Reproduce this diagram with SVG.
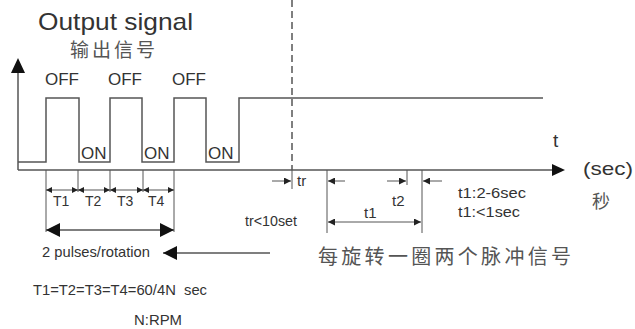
<svg xmlns="http://www.w3.org/2000/svg" width="635" height="329" viewBox="0 0 635 329">
<defs>
<style>
.ln{stroke:#555;stroke-width:1.5;fill:none}
.tn{stroke:#555;stroke-width:1;fill:none}
.tx{font-family:"Liberation Sans",Arial,sans-serif;fill:#333}
.cj{font-family:"Noto Sans CJK SC","Liberation Sans",sans-serif;fill:#555}
</style>
<marker id="sa" viewBox="0 0 10 10" refX="10" refY="5" markerWidth="6" markerHeight="6" markerUnits="userSpaceOnUse" orient="auto-start-reverse"><path d="M0,0L10,5L0,10z" fill="#222"/></marker>
<marker id="ma" viewBox="0 0 10 10" refX="10" refY="5" markerWidth="9" markerHeight="7" markerUnits="userSpaceOnUse" orient="auto-start-reverse"><path d="M0,0L10,5L0,10z" fill="#222"/></marker>
<marker id="ba" viewBox="0 0 10 10" refX="10" refY="5" markerWidth="14" markerHeight="15" markerUnits="userSpaceOnUse" orient="auto-start-reverse"><path d="M0,0L10,5L0,10z" fill="#111"/></marker>
</defs>
<rect width="635" height="329" fill="#fff"/>
<g id="title">
<text class="tx" x="38" y="30" font-size="24" textLength="155" lengthAdjust="spacingAndGlyphs">Output signal</text>
<text class="cj" x="70" y="57" font-size="19" letter-spacing="3">输出信号</text>
</g>
<g id="axes">
<line class="ln" x1="18" y1="170" x2="553" y2="170"/>
<path d="M552,164L565,170L552,176z" fill="#111"/>
<line class="ln" x1="18" y1="170" x2="18" y2="72"/>
<path d="M11,73L18,58L25,73z" fill="#111"/>
<text class="tx" x="553" y="147" font-size="19">t</text>
<text class="tx" x="583" y="175" font-size="19" textLength="50" lengthAdjust="spacingAndGlyphs">(sec)</text>
<text class="cj" x="592" y="208" font-size="18">秒</text>
</g>
<g id="signal">
<polyline class="ln" points="18,162 46,162 46,98 79,98 79,162 110,162 110,98 142,98 142,162 174,162 174,98 206,98 206,162 239,162 239,98 543,98"/>
<line class="ln" x1="292" y1="0" x2="292" y2="170" stroke-dasharray="7,4"/>
<text class="tx" x="45" y="85" font-size="17">OFF</text>
<text class="tx" x="108" y="85" font-size="17">OFF</text>
<text class="tx" x="172" y="85" font-size="17">OFF</text>
<text class="tx" x="81" y="159" font-size="17">ON</text>
<text class="tx" x="144" y="159" font-size="17">ON</text>
<text class="tx" x="208" y="159" font-size="17">ON</text>
</g>
<g id="connectors">
<line class="tn" x1="46" y1="170" x2="46" y2="232"/>
<line class="tn" x1="78" y1="170" x2="78" y2="192"/>
<line class="tn" x1="110" y1="170" x2="110" y2="192"/>
<line class="tn" x1="143" y1="170" x2="143" y2="192"/>
<line class="tn" x1="174" y1="170" x2="174" y2="232"/>
<line class="tn" x1="46" y1="190" x2="78" y2="190" marker-start="url(#sa)" marker-end="url(#sa)"/>
<line class="tn" x1="78" y1="190" x2="110" y2="190" marker-start="url(#sa)" marker-end="url(#sa)"/>
<line class="tn" x1="110" y1="190" x2="143" y2="190" marker-start="url(#sa)" marker-end="url(#sa)"/>
<line class="tn" x1="143" y1="190" x2="174" y2="190" marker-start="url(#sa)" marker-end="url(#sa)"/>
<line class="ln" x1="46" y1="230" x2="174" y2="230" marker-start="url(#ba)" marker-end="url(#ba)"/>
<line class="ln" x1="270" y1="253" x2="163" y2="253" marker-end="url(#ba)"/>
<line class="tn" x1="292" y1="170" x2="292" y2="189"/>
<line class="tn" x1="272" y1="181" x2="291" y2="181" marker-end="url(#ma)"/>
<line class="tn" x1="327" y1="170" x2="327" y2="233"/>
<line class="tn" x1="345" y1="181" x2="328" y2="181" marker-end="url(#ma)"/>
<line class="tn" x1="407" y1="170" x2="407" y2="185"/>
<line class="tn" x1="387" y1="181" x2="406" y2="181" marker-end="url(#ma)"/>
<line class="tn" x1="422" y1="170" x2="422" y2="233"/>
<line class="tn" x1="442" y1="181" x2="423" y2="181" marker-end="url(#ma)"/>
<line class="tn" x1="328" y1="222" x2="421" y2="222" marker-start="url(#ma)" marker-end="url(#ma)"/>
</g>
<g id="labels">
<text class="tx" x="53" y="206" font-size="14">T1</text>
<text class="tx" x="85" y="206" font-size="14">T2</text>
<text class="tx" x="117" y="206" font-size="14">T3</text>
<text class="tx" x="148" y="206" font-size="14">T4</text>
<text class="tx" x="42" y="257" font-size="14.5" textLength="108" lengthAdjust="spacingAndGlyphs">2 pulses/rotation</text>
<text class="tx" x="33" y="295" font-size="14" textLength="174" lengthAdjust="spacingAndGlyphs" xml:space="preserve">T1=T2=T3=T4=60/4N  sec</text>
<text class="tx" x="134" y="325" font-size="14.5" textLength="48" lengthAdjust="spacingAndGlyphs">N:RPM</text>
<text class="tx" x="297" y="186" font-size="15">tr</text>
<text class="tx" x="245" y="226" font-size="14" textLength="52" lengthAdjust="spacingAndGlyphs">tr&lt;10set</text>
<text class="tx" x="392" y="206" font-size="15">t2</text>
<text class="tx" x="364" y="218" font-size="15">t1</text>
<text class="tx" x="458" y="198" font-size="15" textLength="68" lengthAdjust="spacingAndGlyphs">t1:2-6sec</text>
<text class="tx" x="458" y="217" font-size="15" textLength="62" lengthAdjust="spacingAndGlyphs">t1:&lt;1sec</text>
<text class="cj" x="318" y="264" font-size="20" letter-spacing="3.3">每旋转一圈两个脉冲信号</text>
</g>
</svg>
